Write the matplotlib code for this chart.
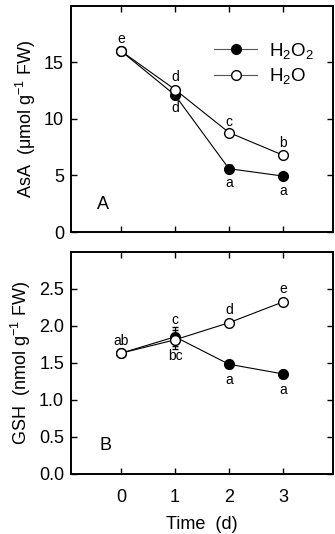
import numpy as np
import matplotlib
matplotlib.use("Agg")
import matplotlib.pyplot as plt
from matplotlib.lines import Line2D

plt.rcParams['font.family'] = ['Liberation Sans', 'DejaVu Sans']
plt.rcParams['mathtext.fontset'] = 'custom'
plt.rcParams['mathtext.rm'] = 'Liberation Sans'
plt.rcParams['mathtext.it'] = 'Liberation Sans:italic'
plt.rcParams['mathtext.bf'] = 'Liberation Sans:bold'

# ---- data ----
days = [0, 1, 2, 3]

asa_h2o2 = [16.0, 12.1, 5.6, 4.95]
asa_h2o = [16.0, 12.6, 8.8, 6.8]
asa_h2o2_err = [0.2, 0.3, 0.3, 0.3]
asa_h2o_err = [0.2, 0.2, 0.2, 0.2]
asa_h2o2_letters = ['', 'd', 'a', 'a']
asa_h2o_letters = ['e', 'd', 'c', 'b']

gsh_h2o2 = [1.63, 1.85, 1.48, 1.35]
gsh_h2o = [1.63, 1.81, 2.04, 2.32]
gsh_h2o2_err = [0.02, 0.13, 0.05, 0.05]
gsh_h2o_err = [0.02, 0.13, 0.02, 0.03]
gsh_h2o2_letters = ['', 'bc', 'a', 'a']
gsh_h2o_letters = ['ab', 'c', 'd', 'e']

# letter offsets (points), above for H2O, below for H2O2
asa_up = [9, 9, 7.5, 9]
asa_dn = [9, 9, 10, 10.5]
gsh_up = [9, 14, 9, 9]
gsh_dn = [9, 14, 11, 11.5]

fig = plt.figure(figsize=(3.35, 5.34), dpi=100)
ax1 = fig.add_axes([0.212, 0.5655, 0.782, 0.4235])
ax2 = fig.add_axes([0.212, 0.1124, 0.782, 0.4165])


def panel(ax, y1, e1, y0, e0, l1, l0, up, dn):
    ax.errorbar(days, y1, yerr=e1, fmt='-o', color='black', lw=0.8,
                ms=7, mfc='black', mec='black', mew=1,
                elinewidth=0.8, capsize=2, capthick=0.8, zorder=3)
    ax.errorbar(days, y0, yerr=e0, fmt='-o', color='black', lw=0.8,
                ms=7, mfc='white', mec='black', mew=1,
                elinewidth=0.8, capsize=2, capthick=0.8, zorder=4)
    for i, d in enumerate(days):
        if l0[i]:
            ax.annotate(l0[i], (d, y0[i]), xytext=(0, up[i]),
                        textcoords='offset points', ha='center',
                        va='center', fontsize=10)
        if l1[i]:
            ax.annotate(l1[i], (d, y1[i]), xytext=(0, -dn[i]),
                        textcoords='offset points', ha='center',
                        va='center', fontsize=10)
    ax.set_xlim(-0.93, 3.93)
    ax.set_xticks(days)
    ax.tick_params(direction='in', length=4, width=1, top=True, right=True,
                   labelsize=13, pad=5)
    for s in ax.spines.values():
        s.set_linewidth(1.4)


panel(ax1, asa_h2o2, asa_h2o2_err, asa_h2o, asa_h2o_err,
      asa_h2o2_letters, asa_h2o_letters, asa_up, asa_dn)
ax1.set_ylim(0, 20)
ax1.set_yticks([0, 5, 10, 15])
ax1.tick_params(labelbottom=False)
ax1.set_ylabel('AsA  (μmol g$^{-1}$ FW)', fontsize=13)
ax1.text(0.122, 0.12, 'A', transform=ax1.transAxes, fontsize=13,
         ha='center', va='center')
handles = [
    Line2D([], [], color='#555555', lw=0.8, marker='o', ms=7,
           mfc='black', mec='black'),
    Line2D([], [], color='#555555', lw=0.8, marker='o', ms=7,
           mfc='white', mec='black'),
]
ax1.legend(handles, ['H$_2$O$_2$', 'H$_2$O'], loc='upper right',
           bbox_to_anchor=(0.99, 0.92), frameon=False,
           fontsize=13.5, handlelength=2.3, handletextpad=0.6,
           labelspacing=0.3, numpoints=1)

panel(ax2, gsh_h2o2, gsh_h2o2_err, gsh_h2o, gsh_h2o_err,
      gsh_h2o2_letters, gsh_h2o_letters, gsh_up, gsh_dn)
ax2.set_ylim(0, 3.0)
ax2.set_yticks([0, 0.5, 1.0, 1.5, 2.0, 2.5])
ax2.set_yticklabels(['0.0', '0.5', '1.0', '1.5', '2.0', '2.5'])
ax2.tick_params(axis='x', pad=11)
ax2.set_ylabel('GSH  (nmol g$^{-1}$ FW)', fontsize=13)
ax2.set_xlabel('Time  (d)', fontsize=13, labelpad=7)
ax2.text(0.13, 0.13, 'B', transform=ax2.transAxes, fontsize=13,
         ha='center', va='center')

fig.savefig('out.png', dpi=100)
